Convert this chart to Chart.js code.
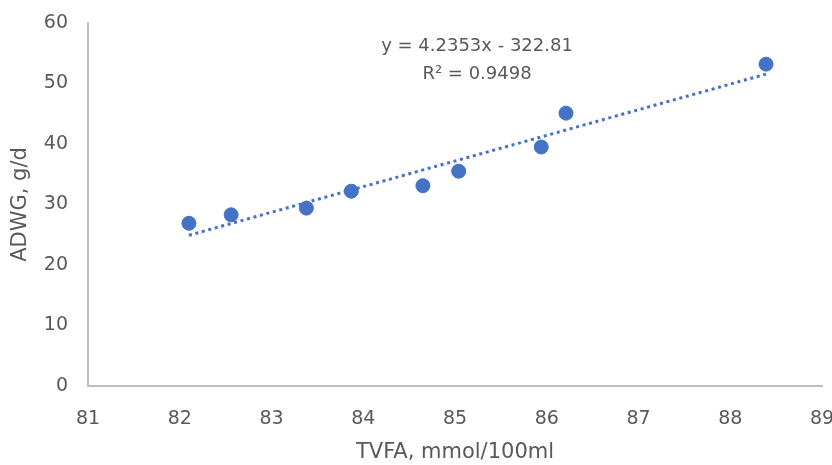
<!DOCTYPE html>
<html>
<head>
<meta charset="utf-8">
<script src="https://cdn.jsdelivr.net/npm/chart.js@4.4.1/dist/chart.umd.min.js"></script>
<style>
  html, body { margin: 0; padding: 0; background: #fff; }
  canvas { display: block; }
</style>
</head>
<body>
<canvas id="c" width="832" height="465"></canvas>
<script>
// Data
const tvfa = [82.10, 82.56, 83.38, 83.87, 84.65, 85.04, 85.94, 86.21, 88.39];
const adwg = [26.9, 28.3, 29.4, 32.2, 33.1, 35.5, 39.5, 45.1, 53.2];
// Trendline reported on the chart
const slope = 4.2353;
const intercept = -322.81;
const equationText = 'y = 4.2353x - 322.81';
const r2Text = 'R\u00B2 = 0.9498';
const xTicks = [81, 82, 83, 84, 85, 86, 87, 88, 89];
const yTicks = [0, 10, 20, 30, 40, 50, 60];

const points = tvfa.map((x, i) => ({ x: x, y: adwg[i] }));
const xMin = Math.min(...tvfa), xMax = Math.max(...tvfa);
const trend = [xMin, xMax].map(x => ({ x: x, y: slope * x + intercept }));

const FONT = '"DejaVu Sans", sans-serif';
const GREY = '#595959';
const BLUE = '#4472C4';

const eqPlugin = {
  id: 'eq',
  afterDatasetsDraw(chart) {
    const ctx = chart.ctx;
    ctx.save();
    ctx.fillStyle = GREY;
    ctx.font = '18px ' + FONT;
    ctx.textAlign = 'center';
    ctx.textBaseline = 'middle';
    ctx.fillText(equationText, 477, 46);
    ctx.fillText(r2Text, 477, 74);
    ctx.restore();
  }
};

new Chart(document.getElementById('c'), {
  type: 'scatter',
  data: {
    datasets: [
      {
        label: 'Trend',
        type: 'line',
        data: trend,
        borderColor: BLUE,
        borderWidth: 3,
        borderDash: [3, 3.7],
        pointRadius: 0,
        fill: false,
        order: 2
      },
      {
        label: 'ADWG',
        data: points,
        backgroundColor: BLUE,
        borderColor: BLUE,
        pointRadius: 7,
        pointHoverRadius: 7,
        order: 1
      }
    ]
  },
  options: {
    responsive: false,
    animation: false,
    devicePixelRatio: 1,
    layout: { padding: { top: 23, right: 10, left: 0, bottom: 0 } },
    plugins: { legend: { display: false }, tooltip: { enabled: false } },
    scales: {
      x: {
        type: 'linear',
        min: xTicks[0],
        max: xTicks[xTicks.length - 1],
        afterBuildTicks: s => { s.ticks = xTicks.map(v => ({ value: v })); },
        afterFit: s => { s.height = 79; s.paddingLeft = 0; s.paddingRight = 0; },
        grid: { display: false, drawTicks: false },
        border: { display: true, color: '#bfbfbf', width: 2 },
        ticks: { color: GREY, font: { family: FONT, size: 19 }, padding: 22, maxRotation: 0 },
        title: { display: true, text: 'TVFA, mmol/100ml', color: GREY, font: { family: FONT, size: 21 }, padding: { top: -3, bottom: 0 } }
      },
      y: {
        min: yTicks[0],
        max: yTicks[yTicks.length - 1],
        afterBuildTicks: s => { s.ticks = yTicks.map(v => ({ value: v })); },
        afterFit: s => { s.width = 88; s.paddingTop = 0; s.paddingBottom = 0; },
        grid: { display: false, drawTicks: false },
        border: { display: true, color: '#bfbfbf', width: 2 },
        ticks: { color: GREY, font: { family: FONT, size: 19 }, padding: 20 },
        title: { display: true, text: 'ADWG, g/d', color: GREY, font: { family: FONT, size: 21 }, padding: { top: 8, bottom: 0 } }
      }
    }
  },
  plugins: [eqPlugin]
});
</script>
</body>
</html>
